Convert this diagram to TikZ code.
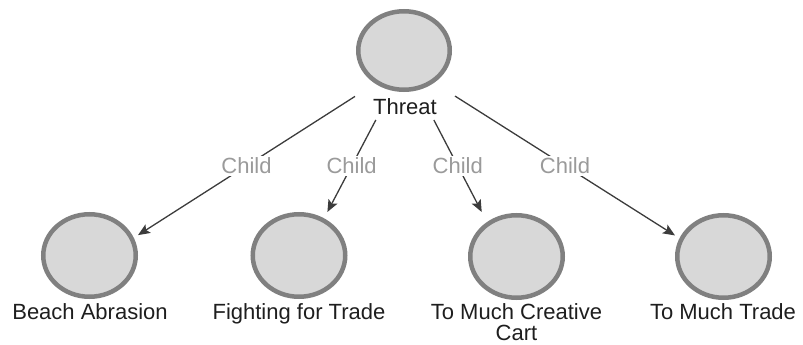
\documentclass[tikz,border=0pt]{standalone}
\usepackage{fontspec}
\setmainfont{Liberation Sans}
\usetikzlibrary{arrows.meta,shapes.geometric}
\definecolor{ringgray}{HTML}{808080}
\definecolor{fillgray}{HTML}{D8D8D8}
\definecolor{edgegray}{HTML}{3C3C3C}
\definecolor{elabelgray}{HTML}{9A9A9A}
\definecolor{textdark}{HTML}{1E1E1E}
\tikzset{
  vertex/.style={ellipse, draw=ringgray, fill=fillgray, line width=4.5pt, inner sep=0pt},
  vbox/.style={rectangle, draw=none, inner sep=0pt, outer sep=0pt},
  vlabel/.style={anchor=base, inner sep=0pt, text=textdark, font=\fontsize{22}{21}\selectfont, align=center},
  edge/.style={draw=edgegray, line width=1.3pt, -{Stealth[length=12pt,width=10pt,inset=2.5pt]}},
  elabel/.style={fill=white, inner sep=2pt, text=elabelgray, font=\fontsize{22}{21}\selectfont}
}
\begin{document}
\begin{tikzpicture}[x=1pt,y=-1pt]
\useasboundingbox (0,0) rectangle (803,345);
% circles
\node[vertex, minimum width=91.5pt, minimum height=78.5pt] (tc) at (404,50.5) {};
\node[vertex, minimum width=92.5pt, minimum height=82.5pt] (bc) at (89.5,255.5) {};
\node[vertex, minimum width=92.5pt, minimum height=82.5pt] (fc) at (299,255.5) {};
\node[vertex, minimum width=92.5pt, minimum height=82.5pt] (cc) at (516.5,256.5) {};
\node[vertex, minimum width=92.5pt, minimum height=82.5pt] (mc) at (723.5,256.5) {};
% labels
\node[vlabel] (tl) at (405,114.3) {Threat};
\node[vlabel] (bl) at (90,319.3) {Beach Abrasion};
\node[vlabel] (fl) at (299,319.3) {Fighting for Trade};
\node[vlabel] (cl) at (516.5,340) {To Much Creative\\Cart};
\node[vlabel] (ml) at (723,319.3) {To Much Trade};
% invisible vertex boxes (circle + label)
\node[vbox, minimum width=100pt, minimum height=111pt] (t) at (405,64.5) {};
\node[vbox, minimum width=97pt, minimum height=108pt] (b) at (89.5,266) {};
\node[vbox, minimum width=97pt, minimum height=108pt] (f) at (299,266) {};
\node[vbox, minimum width=97pt, minimum height=134pt] (c) at (516.5,279) {};
\node[vbox, minimum width=97pt, minimum height=108pt] (m) at (723.5,266) {};
% connectors
\draw[edge] (t) -- (b) node[midway, elabel] {Child};
\draw[edge] (t) -- (f) node[midway, elabel] {Child};
\draw[edge] (t) -- (c) node[midway, elabel] {Child};
\draw[edge] (t) -- (m) node[midway, elabel] {Child};
\end{tikzpicture}
\end{document}
